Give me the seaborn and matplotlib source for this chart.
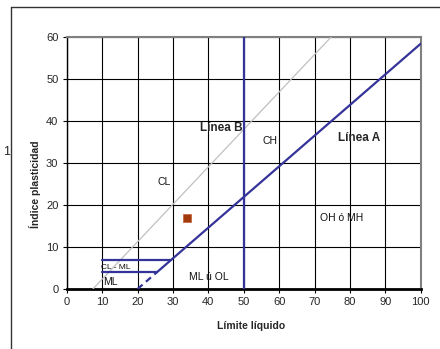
import matplotlib
matplotlib.use("Agg")
import matplotlib.pyplot as plt
import seaborn as sns
import pandas as pd
from matplotlib.lines import Line2D

sns.set_theme(style="white")
plt.rcParams['font.family'] = ['Liberation Sans', 'DejaVu Sans']

# Data
x_ticks = [0, 10, 20, 30, 40, 50, 60, 70, 80, 90, 100]
y_ticks = [0, 10, 20, 30, 40, 50, 60]
line_a_ll = [25.5, 29.6, 100]
line_a_pi = [4, 7, 58.4]
line_a_dash_ll = [20, 25.5]
line_a_dash_pi = [0, 4]
line_u_ll = [7.4, 74.7]
line_u_pi = [0, 60]
line_b_ll = [50, 50]
line_b_pi = [0, 60]
h7_ll = [10, 29.6]
h7_pi = [7, 7]
h4_ll = [10, 25.5]
h4_pi = [4, 4]
sample_ll = [34]
sample_pi = [17]
zone_labels = ["CH", "CL", "OH ó MH", "ML ú OL", "ML"]
zone_ll = [57.3, 27.5, 77.6, 40.2, 12.2]
zone_pi = [35.2, 25.5, 16.9, 2.9, 1.7]

fig = plt.figure(figsize=(4.40, 3.49), dpi=100)
ax = fig.add_axes([66.7/440, 1-289/349, (420.7-66.7)/440, (289-37)/349])

blue = "#333399"

def seg(xs, ys, **kw):
    df = pd.DataFrame({"x": xs, "y": ys})
    sns.lineplot(data=df, x="x", y="y", ax=ax, sort=False, estimator=None, **kw)

seg(line_u_ll, line_u_pi, color="#c0c0c0", linewidth=0.9, zorder=3)
seg(line_a_ll, line_a_pi, color=blue, linewidth=1.6, zorder=4)
seg(line_a_dash_ll, line_a_dash_pi, color=blue, linewidth=1.6, linestyle=(0, (3, 2)), zorder=4)
seg(line_b_ll, line_b_pi, color=blue, linewidth=1.6, zorder=4)
seg(h7_ll, h7_pi, color=blue, linewidth=1.6, zorder=4)
seg(h4_ll, h4_pi, color=blue, linewidth=1.6, zorder=4)

sns.scatterplot(x=sample_ll, y=sample_pi, ax=ax, marker="s", s=40,
                color="#A33A0B", edgecolor="#c0603a", linewidth=0.5, zorder=5)

ax.set_xlim(0, 100)
ax.set_ylim(0, 60)
ax.set_xticks(x_ticks)
ax.set_yticks(y_ticks)
ax.grid(True, color="black", linewidth=0.8)
ax.set_axisbelow(True)
for s in ["top", "right"]:
    ax.spines[s].set_color("#808080")
    ax.spines[s].set_linewidth(1.5)
ax.spines["left"].set_color("black")
ax.spines["left"].set_linewidth(1.0)
ax.spines["bottom"].set_color("black")
ax.spines["bottom"].set_linewidth(2.0)
ax.tick_params(axis="both", which="both", direction="out", length=3, width=0.8,
               color="black", labelsize=8, pad=3, bottom=True, left=True)
ax.set_xlabel("")
ax.set_ylabel("")

for t, x, y in zip(zone_labels, zone_ll, zone_pi):
    ax.text(x, y, t, fontsize=7.5, ha="center", va="center", color="#111111", zorder=6)
ax.text(13.9, 5.2, "CL - ML", fontsize=6, ha="center", va="center", color="#111111", zorder=6)
ax.text(43.7, 38.3, "Línea B", fontsize=8.5, fontweight="bold", ha="center", va="center", zorder=6)
ax.text(82.7, 36.0, "Línea A", fontsize=8.5, fontweight="bold", ha="center", va="center", zorder=6)

fig.text(251/440, 1-326/349, "Límite líquido", fontsize=7.5, fontweight="bold",
         ha="center", va="center")
fig.text(35/440, 1-184/349, "Índice plasticidad", fontsize=7.5, fontweight="bold",
         ha="center", va="center", rotation=90)
fig.text(3/440, 1-152/349, "1", fontsize=9, ha="left", va="center")

# outer frame
fig.add_artist(Line2D([11/440, 1.0], [1-7/349, 1-7/349], color="#333333", linewidth=1.0,
                      transform=fig.transFigure))
fig.add_artist(Line2D([11/440, 11/440], [1-7/349, 0.0], color="#333333", linewidth=1.0,
                      transform=fig.transFigure))

fig.savefig("out.png", dpi=100)
